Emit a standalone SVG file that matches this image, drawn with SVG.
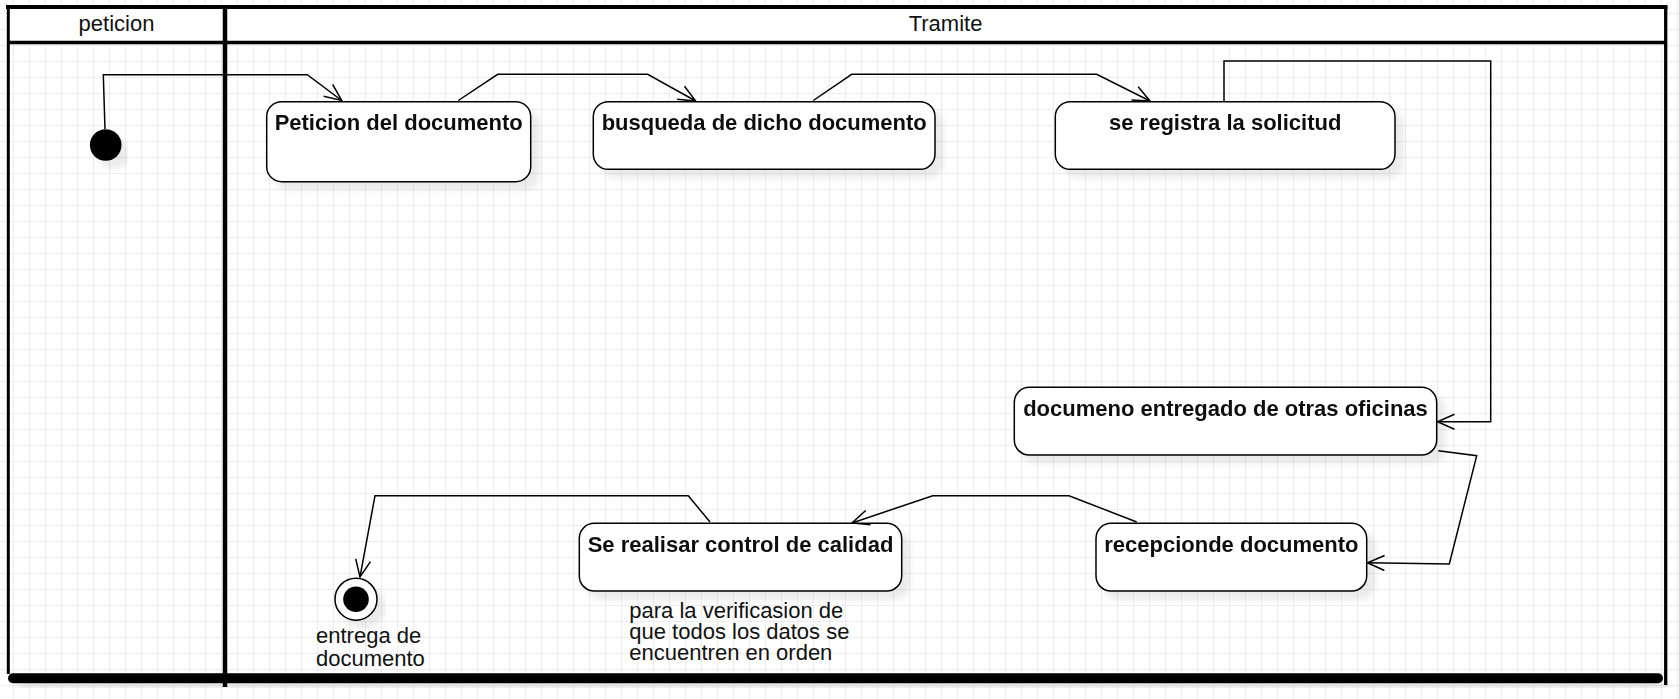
<svg xmlns="http://www.w3.org/2000/svg" width="1679" height="699" viewBox="0 0 1679 699">
<style>
.lbl{font-family:"Liberation Sans",Arial,sans-serif;font-size:22px;fill:#111}
.ttl{font-family:"Liberation Sans",Arial,sans-serif;font-size:22px;font-weight:bold;fill:#111;text-anchor:middle}
.node{fill:#fff;stroke:#000;stroke-width:1.5}
.conn{fill:none;stroke:#000;stroke-width:1.5;marker-end:url(#open)}
.lane{stroke:#000;fill:none}
</style>
<defs>
<pattern id="grid" x="13" y="13" width="16" height="16" patternUnits="userSpaceOnUse">
<path d="M0 0.5H16M0.5 0V16" stroke="#ededed" stroke-width="1" fill="none"/>
</pattern>
<filter id="sh" x="-10%" y="-20%" width="130%" height="160%">
<feDropShadow dx="8" dy="8" stdDeviation="3" flood-color="#000" flood-opacity="0.08"/>
</filter>
<marker id="open" markerUnits="userSpaceOnUse" markerWidth="22" markerHeight="20" refX="17" refY="8" orient="auto" overflow="visible">
<path d="M0,0.5 L17,8 L0,15.5" fill="none" stroke="#000" stroke-width="1.5"/>
</marker>
</defs>
<rect width="1679" height="699" fill="#fff"/>
<rect width="1679" height="699" fill="url(#grid)"/>

<g id="pool">
<rect x="8" y="7" width="1657.7" height="35.5" fill="#fff"/>
<text class="lbl" x="116.5" y="31" text-anchor="middle">peticion</text>
<text class="lbl" x="945.5" y="31" text-anchor="middle">Tramite</text>
<line class="lane" x1="6" y1="7" x2="1667.5" y2="7" stroke-width="4"/>
<line class="lane" x1="8" y1="42.5" x2="1665.7" y2="42.5" stroke-width="3.5"/>
<line class="lane" x1="8.3" y1="7" x2="8.3" y2="674" stroke-width="3"/>
<line class="lane" x1="1665.7" y1="7" x2="1665.7" y2="685" stroke-width="3.3"/>
<line class="lane" x1="225" y1="7" x2="225" y2="687" stroke-width="4.5"/>
<rect x="8" y="673.3" width="1655" height="10" rx="5" fill="#000" filter="url(#sh)"/>
</g>

<g id="start" filter="url(#sh)">
<circle cx="105.7" cy="145" r="15.8" fill="#000"/>
</g>

<g id="n1" filter="url(#sh)">
<rect class="node" x="266.7" y="101.7" width="264" height="80" rx="15"/>
<text class="ttl" x="398.7" y="130">Peticion del documento</text>
</g>
<g id="n2" filter="url(#sh)">
<rect class="node" x="593.3" y="101.7" width="341.7" height="67.6" rx="15"/>
<text class="ttl" x="764.2" y="130">busqueda de dicho documento</text>
</g>
<g id="n3" filter="url(#sh)">
<rect class="node" x="1055.3" y="101.7" width="339.7" height="67.6" rx="15"/>
<text class="ttl" x="1225.2" y="130">se registra la solicitud</text>
</g>
<g id="n4" filter="url(#sh)">
<rect class="node" x="1014.3" y="387.3" width="422.4" height="67.7" rx="15"/>
<text class="ttl" x="1225.5" y="415.5">documeno entregado de otras oficinas</text>
</g>
<g id="n5" filter="url(#sh)">
<rect class="node" x="1096" y="523.3" width="270.7" height="67.7" rx="15"/>
<text class="ttl" x="1231.4" y="551.7">recepcionde documento</text>
</g>
<g id="n6" filter="url(#sh)">
<rect class="node" x="579.3" y="523.3" width="322.4" height="67.7" rx="15"/>
<text class="ttl" x="740.5" y="551.7">Se realisar control de calidad</text>
</g>
<g id="note">
<text class="lbl" x="629.3" y="617.5"><tspan x="629.3" y="617.5">para la verificasion de</tspan><tspan x="629.3" y="638.8">que todos los datos se</tspan><tspan x="629.3" y="660">encuentren en orden</tspan></text>
</g>

<g id="end">
<g filter="url(#sh)">
<circle cx="356" cy="599.2" r="21" fill="#fff" stroke="#000" stroke-width="1.5"/>
<circle cx="356" cy="599.2" r="12.8" fill="#000"/>
</g>
<text class="lbl" x="316" y="643"><tspan x="316" y="643">entrega de</tspan><tspan x="316" y="665.7">documento</tspan></text>
</g>

<g id="connectors">
<path class="conn" d="M105,129 L103.3,74.7 L307.3,74.7 L341.7,100.5"/>
<path class="conn" d="M458.3,100.5 L497.7,74.3 L647.7,74.3 L695.7,101"/>
<path class="conn" d="M813.3,100.5 L851.7,74.3 L1096.7,74.3 L1150,101"/>
<path class="conn" d="M1224,101 L1224,61 L1490.7,61 L1490.7,421.7 L1437.5,421.7"/>
<path class="conn" d="M1438.3,450.7 L1476.7,455.7 L1449.3,564 L1367.5,562.7"/>
<path class="conn" d="M1136.7,522 L1069,495.7 L932.7,495.7 L852,523"/>
<path class="conn" d="M710,522 L688.3,495.7 L375,495.7 L360,577"/>
</g>
</svg>
